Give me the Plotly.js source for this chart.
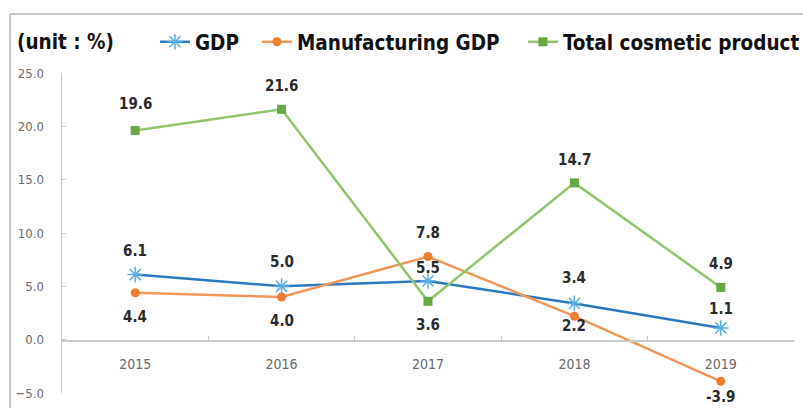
<!DOCTYPE html>
<html>
<head>
<meta charset="utf-8">
<script src="https://cdn.plot.ly/plotly-3.0.1.min.js"></script>
<style>html,body{margin:0;padding:0;background:#fff;}#chart{width:803px;height:408px;}</style>
</head>
<body>
<div id="chart"></div>
<script>
const years = ['2015', '2016', '2017', '2018', '2019'];
const gdp = [6.1, 5.0, 5.5, 3.4, 1.1];
const manufacturingGdp = [4.4, 4.0, 7.8, 2.2, -3.9];
const totalCosmetic = [19.6, 21.6, 3.6, 14.7, 4.9];
const yTickVals = [-5, 0, 5, 10, 15, 20, 25];

// label offsets in pixels (positive = above the point)
const gdpLabelShift = [24, 24, 13, 25, 19];
const mfgLabelShift = [-24, -24, 23, -10, -16];
const totLabelShift = [27, 23, -24, 23, 23];

const FONT = 'DejaVu Sans Condensed, DejaVu Sans, sans-serif';
const labelFont = {family: FONT, size: 15, color: '#2b2b2b', weight: 'bold'};

function labels(values, shifts) {
  return values.map((v, i) => ({
    x: i, y: v, xref: 'x', yref: 'y', text: v.toFixed(1), showarrow: false,
    yshift: shifts[i], font: labelFont, xanchor: 'center', yanchor: 'middle'
  }));
}

const traces = [
  {x: years, y: gdp, name: 'GDP', type: 'scatter', mode: 'lines+markers', legendwidth: 57,
   line: {color: '#2e78c0', width: 2.5},
   marker: {symbol: 'asterisk', size: 13, color: '#2e78c0', line: {color: '#5aaee6', width: 1.5}},
   cliponaxis: false},
  {x: years, y: manufacturingGdp, name: 'Manufacturing GDP', type: 'scatter', mode: 'lines+markers', legendwidth: 221,
   line: {color: '#f1975a', width: 2.5},
   marker: {symbol: 'circle', size: 9, color: '#ee7d2d'},
   cliponaxis: false},
  {x: years, y: totalCosmetic, name: 'Total cosmetic product', type: 'scatter', mode: 'lines+markers',
   line: {color: '#92c36e', width: 2.5},
   marker: {symbol: 'square', size: 9, color: '#67a845'},
   cliponaxis: false}
];

const layout = {
  width: 803, height: 408,
  margin: {l: 62, r: 9, t: 73, b: 15, autoexpand: false},
  paper_bgcolor: '#ffffff', plot_bgcolor: '#ffffff',
  showlegend: true,
  legend: {orientation: 'h', xref: 'container', x: 0.193, xanchor: 'left', y: 1.097, yanchor: 'middle',
           font: {family: FONT, size: 20.5, color: '#111111', weight: 'bold'},
           itemwidth: 30, bgcolor: 'rgba(0,0,0,0)'},
  xaxis: {type: 'category', range: [-0.5, 4.5], anchor: 'free', position: 0.1625,
          showline: true, linecolor: '#cacaca', linewidth: 2,
          ticks: 'inside', tickson: 'boundaries', ticklen: 4, tickcolor: '#cacaca',
          showgrid: false, zeroline: false, ticklabelstandoff: 10,
          tickfont: {family: FONT, size: 14, color: '#6a6a6a'}},
  yaxis: {range: [-5, 25], tickvals: yTickVals, tickformat: '.1f',
          showline: true, linecolor: '#cacaca', linewidth: 1.5,
          ticks: 'inside', ticklen: 4, tickcolor: '#cacaca',
          showgrid: false, zeroline: false, ticklabelstandoff: 14,
          tickfont: {family: FONT, size: 13, color: '#6a6a6a'}},
  annotations: [
    {text: '(unit : %)', xref: 'paper', yref: 'paper', x: -0.064, y: 1.097, xanchor: 'left', yanchor: 'middle',
     showarrow: false, font: {family: FONT, size: 20.5, color: '#111111', weight: 'bold'}}
  ].concat(labels(gdp, gdpLabelShift), labels(manufacturingGdp, mfgLabelShift), labels(totalCosmetic, totLabelShift)),
  shapes: [
    {type: 'line', xref: 'paper', yref: 'paper', x0: -0.071, x1: 1.02, y0: 1.184, y1: 1.184,
     line: {color: '#c8c8c8', width: 2}},
    {type: 'line', xref: 'paper', yref: 'paper', x0: -0.071, x1: -0.071, y0: 1.184, y1: -0.05,
     line: {color: '#c8c8c8', width: 2}}
  ]
};

Plotly.newPlot('chart', traces, layout, {displayModeBar: false, staticPlot: true});
</script>
</body>
</html>
